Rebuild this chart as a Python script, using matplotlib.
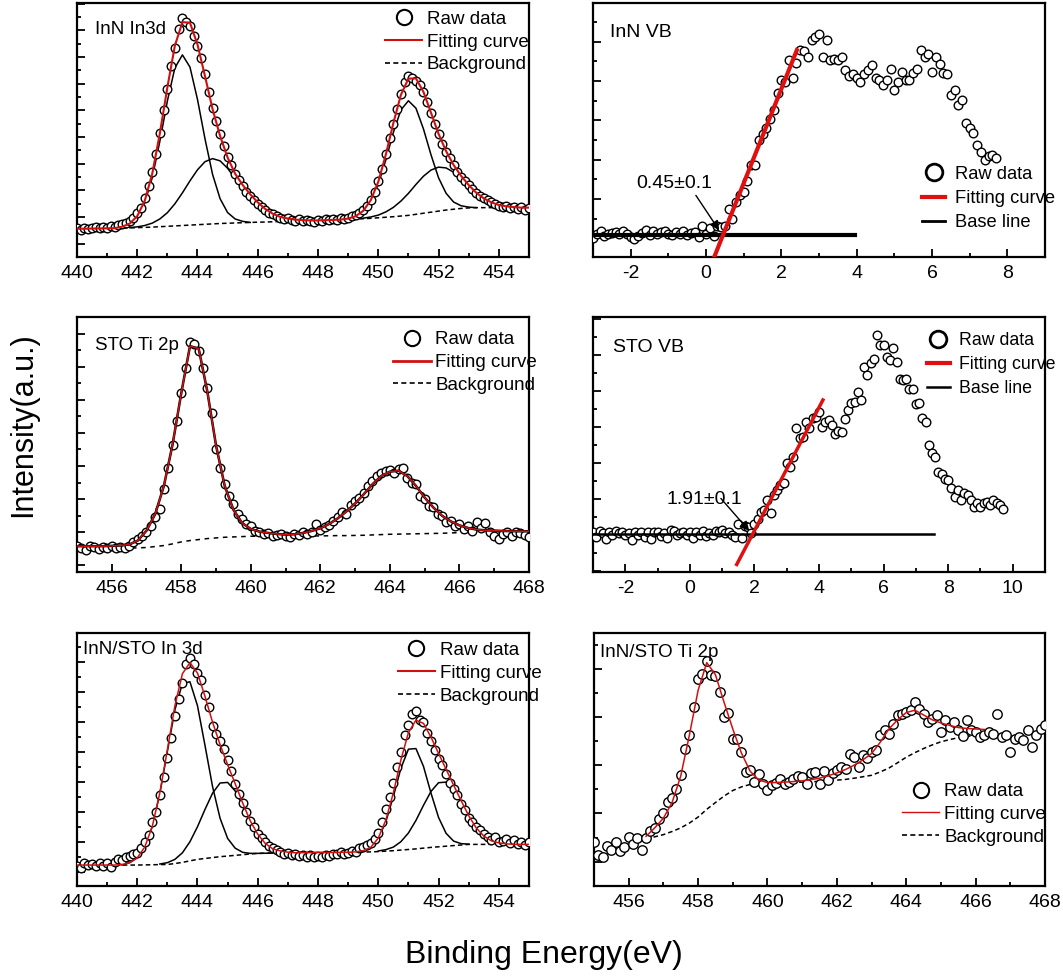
import numpy as np
import matplotlib
matplotlib.use("Agg")
import matplotlib.pyplot as plt
from matplotlib import font_manager
from matplotlib.lines import Line2D
from matplotlib.ticker import MultipleLocator

# XPS spectra: InN / STO core levels and valence bands

# ---- panel 1: InN In3d (raw step 0.125, curves step 0.25) ----
p1_raw_x0 = 440.0
p1_raw = [0.58, 0.52, 0.60, 0.55, 0.57, 0.62, 0.58, 0.64, 0.60, 0.66, 0.63, 0.70, 0.72, 0.76, 0.86, 0.95,
          1.15, 1.35, 1.70, 2.15, 2.70, 3.35, 4.15, 5.00, 5.80, 6.65, 7.35, 8.05, 8.45, 8.30, 8.15, 7.80,
          7.40, 6.95, 6.35, 5.70, 5.10, 4.60, 4.10, 3.65, 3.25, 2.95, 2.60, 2.40, 2.15, 1.95, 1.80, 1.65,
          1.50, 1.38, 1.28, 1.15, 1.10, 1.02, 0.98, 0.92, 0.95, 0.88, 0.86, 0.92, 0.84, 0.90, 0.86, 0.82,
          0.90, 0.86, 0.93, 0.88, 0.92, 0.90, 0.96, 0.94, 0.98, 1.02, 1.06, 1.15, 1.25, 1.42, 1.65, 1.95,
          2.35, 2.80, 3.35, 3.95, 4.50, 5.05, 5.60, 6.05, 6.30, 6.20, 6.10, 5.95, 5.70, 5.30, 4.90, 4.50,
          4.10, 3.75, 3.45, 3.20, 2.95, 2.70, 2.50, 2.35, 2.20, 2.05, 1.90, 1.80, 1.70, 1.62, 1.55, 1.50,
          1.42, 1.38, 1.42, 1.35, 1.38, 1.30, 1.36, 1.28, 1.32]
p1_x0 = 440.0
p1_bg = [.56, .56, .565, .57, .575, .58, .585, .59, .60, .61, .62, .635, .65, .665, .68, .695, .71, .725, .74, .755,
         .765, .775, .785, .795, .805, .81, .82, .83, .835, .84, .85, .86, .87, .88, .89, .90, .91, .92, .935, .95,
         .97, .99, 1.01, 1.035, 1.06, 1.10, 1.14, 1.18, 1.22, 1.26, 1.29, 1.32, 1.34, 1.35, 1.35, 1.35, 1.35, 1.35,
         1.35, 1.35, 1.35]
p1_fit = [.56, .56, .565, .57, .575, .58, .635, .75, 1.03, 1.61, 2.63, 4.13, 5.86, 7.43, 8.31, 8.29, 7.47, 6.28,
          5.05, 4.04, 3.23, 2.62, 2.20, 1.85, 1.55, 1.30, 1.12, 1.00, .94, .90, .88, .87, .87, .88, .89, .90, .94,
          1.03, 1.23, 1.63, 2.32, 3.34, 4.52, 5.58, 6.19, 6.20, 5.69, 4.91, 4.12, 3.47, 2.95, 2.54, 2.20, 1.91,
          1.70, 1.55, 1.45, 1.40, 1.37, 1.35, 1.35]
p1_peaks = [
    (440.5, [0, 0, 0, 0, .05, .15, .40, .93, 1.86, 3.2, 4.70, 5.93, 6.4, 5.93, 4.70, 3.2, 1.86, .93, .40, .15, .05, 0]),
    (441.75, [.01, .03, .07, .15, .29, .51, .83, 1.225, 1.66, 2.06, 2.35, 2.45, 2.35, 2.06, 1.66, 1.37, 1.05, .75,
              .49, .30, .17, .10, .06, .03, .01, 0, 0, 0, 0, 0]),
    (448.0, [0, 0, 0, 0, .03, .10, .27, .63, 1.25, 2.15, 3.16, 3.98, 4.3, 3.98, 3.16, 2.15, 1.25, .63, .27, .10, .03, 0]),
    (449.5, [.02, .05, .10, .20, .35, .56, .825, 1.12, 1.39, 1.58, 1.65, 1.58, 1.39, 1.12, .825, .56, .35, .20, .10,
             .05, .02, 0, 0]),
]

# ---- panel 2: InN VB (raw step 0.1) ----
p2_raw_x0 = -3.0
p2_raw = [0.0, 0.10, 0.18, 0.05, 0.12, 0.14, 0.16, 0.10, 0.18, 0.12, 0.02, -0.02, 0.06, 0.14, 0.20, 0.08, 0.18,
          0.10, 0.15, 0.19, 0.10, 0.08, 0.15, 0.12, 0.18, 0.08, 0.14, 0.16, 0.02, 0.30,
          0.10, 0.25, 0.06, 0.30, 0.28, 0.30, 0.75, 0.50, 0.92, 1.10, 1.18, 1.45, 1.86, 1.85, 2.50, 2.66, 2.80,
          3.04, 3.25, 3.69, 4.02, 3.98, 4.52, 4.06, 4.45, 4.78, 4.75, 4.61, 5.03, 5.12, 5.20, 4.61, 5.03, 4.54,
          4.56, 4.54, 4.61, 4.27, 4.12, 4.17, 4.06, 3.97, 4.17, 4.27, 4.40, 4.06, 4.02, 3.89, 4.02, 4.31, 3.76,
          3.97, 4.23, 4.02, 4.02, 4.19, 4.31, 4.78, 4.61, 4.69, 4.23, 4.61, 4.44, 4.19, 4.17, 3.64, 3.78, 3.38,
          3.51, 2.93, 2.79, 2.68, 2.36, 2.19, 2.00, 2.08, 2.11, 2.05]
p2_fit_x = [0.22, 2.41]
p2_fit_y = [-0.47, 4.78]
p2_base_x = [-3.0, 3.96]
p2_base_y = [0.09, 0.09]

# ---- panel 3: STO Ti 2p ----
p3_raw_x0 = 455.0
p3_raw = [.60, .52, .48, .58, .55, .50, .56, .52, .60, .54, .57, .52, .58, .70, .80, .90,
          1.00, 1.20, 1.45, 1.70, 2.30, 2.95, 3.65, 4.35, 5.20, 5.95, 6.75, 6.68, 6.48, 5.95, 5.35, 4.60,
          3.50, 2.95, 2.45, 2.10, 1.85, 1.55, 1.40, 1.25, 1.20, 1.05, 1.02, .95, .98, .88, .92, .96,
          .90, .85, .95, .92, 1.00, .96, 1.02, 1.25, 1.08, 1.15, 1.22, 1.35, 1.45, 1.62, 1.55, 1.82,
          1.95, 2.05, 2.18, 2.40, 2.55, 2.70, 2.80, 2.85, 2.88, 2.78, 2.92, 2.95, 2.65, 2.50, 2.45, 2.10,
          2.00, 1.80, 1.75, 1.55, 1.50, 1.30, 1.35, 1.20, 1.25, 1.10, 1.18, 1.05, 1.30, 1.12, 1.28, 1.00,
          .88, .80, .95, 1.02, .90, 1.00, .98, .92, .85]
p3_x0 = 455.0
p3_bg = [.54, .54, .53, .53, .53, .52, .52, .53, .54, .57, .60, .65, .71, .75, .78, .81, .83, .85, .86, .87,
         .88, .88, .885, .885, .89, .89, .89, .89, .89, .895, .90, .90, .905, .91, .92, .93, .94, .945, .95, .955,
         .96, .965, .97, .98, .99, .995, 1.0, 1.005, 1.01, 1.01, 1.015, 1.02, 1.02]
p3_fit = [.58, .58, .58, .58, .59, .60, .63, .75, 1.05, 1.55, 2.40, 3.65, 5.20, 6.62, 6.55, 5.25, 3.62, 2.40,
          1.68, 1.28, 1.10, 1.02, .98, .95, .93, .94, .98, 1.04, 1.12, 1.25, 1.42, 1.63, 1.87, 2.15, 2.45, 2.70,
          2.83, 2.86, 2.70, 2.40, 2.05, 1.75, 1.50, 1.33, 1.21, 1.13, 1.08, 1.06, 1.05, 1.04, 1.035, 1.03, 1.03]

# ---- panel 4: STO VB ----
p4_raw_x0 = -3.0
p4_raw = [.10, -.05, .12, .05, -.10, .08, .02, .12, .05, .08, .0, .05, -.12, .10, .02, .08, -.06, .10, -.10, .08,
          .10, -.02, .05, -.08, .15, .12, .0, .05, .10, .02,
          .08, -.08, .08, .02, .12, -.02, .05, .0, .12, .08, .15, .05, .10, .02, -.05, .30, -.08, .25, .22, .06,
          .32, .45, .65, .69, .97, .63, 1.11, 1.25, 1.39, 1.45, 1.99, 1.90, 2.18, 2.96, 2.69, 2.72, 3.15, 2.96,
          3.24, 3.27, 3.43, 2.99, 3.15, 3.20, 3.06, 2.81, 2.90, 2.87, 3.21, 3.47, 3.66, 3.70, 3.98, 3.75, 4.66,
          4.44, 4.77, 4.88, 5.56, 5.28, 5.28, 4.95, 4.86, 5.19, 4.79, 4.32, 4.30, 4.32, 4.05, 4.05, 3.64, 3.66,
          3.24, 3.15, 2.50, 2.29, 2.18, 1.76, 1.71, 1.57, 1.53, 1.30, 1.06, 1.25, 0.97, 1.16, 1.11, 0.97, 0.79,
          0.88, 0.79, 0.90, 0.93, 0.83, 0.97, 0.88, 0.83, 0.74]
p4_fit_x = [1.45, 4.12]
p4_fit_y = [-0.81, 3.75]
p4_base_x = [-3.0, 7.55]
p4_base_y = [0.03, 0.03]

# ---- panel 5: InN/STO In 3d ----
p5_raw_x0 = 440.0
p5_raw = [.20, .12, .28, .22, .25, .18, .28, .20, .30, .14, .32, .42, .38, .48, .52, .60,
          .62, .80, .98, 1.22, 1.65, 1.98, 2.55, 3.15, 3.80, 4.45, 5.20, 5.75, 6.30, 6.95, 7.12, 6.92,
          6.62, 6.40, 5.90, 5.50, 4.85, 4.60, 4.35, 4.08, 3.72, 3.35, 2.92, 2.60, 2.28, 1.98, 1.70, 1.48,
          1.25, 1.12, .98, .85, .80, .72, .66, .58, .62, .55, .60, .52, .56, .48, .55, .50,
          .53, .48, .56, .52, .58, .60, .66, .58, .62, .70, .66, .78, .82, .90, .95, 1.10,
          1.30, 1.65, 2.10, 2.50, 2.95, 3.50, 4.00, 4.55, 4.90, 5.25, 5.35, 5.05, 5.00, 4.62, 4.35, 4.05,
          3.75, 3.55, 3.25, 2.95, 2.75, 2.55, 2.25, 2.05, 1.80, 1.65, 1.50, 1.38, 1.25, 1.15, 1.05, 1.15,
          .98, 1.02, 1.10, .95, 1.05, .92, 1.00, .90, .98]
p5_x0 = 440.0
p5_bg = [.22, .22, .22, .22, .22, .22, .22, .22, .22, .225, .23, .235, .24, .27, .31, .36, .41, .44, .47, .50,
         .52, .545, .565, .59, .61, .615, .62, .625, .63, .63, .635, .635, .64, .64, .64, .645, .645, .65, .655, .66,
         .67, .685, .70, .72, .74, .76, .785, .81, .83, .85, .87, .89, .91, .91, .91, .91, .91, .91, .91, .91, .91]
p5_fit = [.22, .22, .22, .22, .22, .22, .24, .30, .46, .82, 1.51, 2.63, 4.07, 5.54, 6.61, 6.98, 6.63, 5.85, 4.99,
          4.24, 3.57, 2.94, 2.29, 1.70, 1.25, .94, .76, .69, .65, .63, .635, .635, .64, .64, .64, .645, .645, .66,
          .70, .81, 1.12, 1.72, 2.63, 3.73, 4.64, 5.06, 4.95, 4.49, 3.95, 3.42, 2.89, 2.37, 1.87, 1.46, 1.19, 1.03,
          .96, .93, .91, .91, .91]
p5_peaks = [
    (441.0, [0, 0, .02, .08, .24, .59, 1.28, 2.37, 3.77, 5.13, 5.98, 5.98, 5.13, 3.77, 2.37, 1.28, .59, .24, .08,
             .02, 0, 0, 0]),
    (442.75, [.02, .06, .14, .32, .64, 1.09, 1.64, 2.15, 2.46, 2.46, 2.15, 1.64, 1.09, .64, .32, .14, .06, .02]),
    (449.25, [.01, .045, .15, .43, .98, 1.81, 2.73, 3.35, 3.35, 2.73, 1.81, .98, .43, .15, .045, .01]),
    (450.0, [.02, .05, .12, .28, .55, .95, 1.43, 1.87, 2.14, 2.14, 1.87, 1.43, .95, .55, .28, .12, .05, .02,
             0, 0, 0]),
]

# ---- panel 6: InN/STO Ti 2p ----
p6_raw_x0 = 455.0
p6_raw = [.83, .28, .21, .65, .48, .83, .46, .62, 1.03, .73, .97, .48, .97, 1.28, 1.38, 1.75,
          2.00, 2.48, 2.62, 3.03, 3.59, 4.65, 5.24, 6.41, 7.59, 7.79, 8.32, 7.72, 7.68, 7.03, 6.00, 6.17,
          5.10, 5.10, 4.55, 3.72, 3.79, 3.31, 3.63, 3.24, 2.99, 3.17, 3.27, 3.41, 3.21, 3.31, 3.41, 3.54,
          3.52, 3.24, 3.68, 3.72, 3.24, 3.77, 3.38, 3.66, 3.79, 3.93, 3.86, 4.48, 4.34, 3.93, 4.41, 4.28,
          4.55, 4.62, 5.24, 5.45, 5.31, 5.72, 6.07, 6.14, 6.21, 6.28, 6.62, 6.34, 6.14, 5.79, 5.93, 6.07,
          5.38, 5.86, 5.59, 5.79, 5.45, 5.20, 5.86, 5.45, 5.38, 5.17, 5.24, 5.38, 5.31, 6.14, 5.17, 5.24,
          4.55, 5.10, 5.17, 5.06, 5.45, 4.76, 5.24, 5.52, 5.66]
p6_x0 = 456.5
p6_bg = [.95, 1.03, 1.12, 1.25, 1.40, 1.60, 1.85, 2.17, 2.45, 2.72, 2.95, 3.10, 3.20, 3.24, 3.26, 3.27, 3.28,
         3.29, 3.30, 3.31, 3.33, 3.36, 3.38, 3.41, 3.46, 3.52, 3.58, 3.72, 3.88, 4.10, 4.33, 4.52, 4.69, 4.84,
         4.97, 5.06, 5.14, 5.19, 5.24, 5.27]
p6_fit = [1.05, 1.40, 1.80, 2.45, 3.55, 5.25, 7.10, 8.25, 7.75, 6.60, 5.50, 4.50, 3.75, 3.38, 3.28, 3.28, 3.30,
          3.32, 3.35, 3.40, 3.46, 3.56, 3.68, 3.82, 4.00, 4.22, 4.48, 4.95, 5.50, 5.88, 6.18, 6.28, 6.08, 5.88,
          5.75, 5.65, 5.56, 5.52, 5.50, 5.48]

STEP_RAW = 0.125
STEP_FIT = 0.25

names = {f.name for f in font_manager.fontManager.ttflist}
NARROW = "Liberation Sans Narrow" if "Liberation Sans Narrow" in names else "Liberation Sans"
plt.rcParams["font.family"] = [NARROW, "DejaVu Sans"]
plt.rcParams["axes.linewidth"] = 1.6


def grid(x0, n, step):
    return x0 + step * np.arange(n)


def style_axes(ax, xlim, ylim, xmaj, ymaj, ymin):
    ax.set_xlim(*xlim)
    ax.set_ylim(*ylim)
    ax.xaxis.set_major_locator(MultipleLocator(xmaj))
    ax.xaxis.set_minor_locator(MultipleLocator(xmaj / 2))
    ax.yaxis.set_major_locator(MultipleLocator(ymaj))
    ax.yaxis.set_minor_locator(MultipleLocator(ymin))
    ax.tick_params(which="both", direction="in", top=False, right=False, width=1.3)
    ax.tick_params(which="major", length=6, labelsize=14, pad=6)
    ax.tick_params(which="minor", length=3)
    ax.set_yticklabels([])
    ax.xaxis.set_major_formatter(plt.FuncFormatter(lambda v, p: "%d" % round(v)))


def raw(ax, x0, ys, step, ms=6.2):
    ax.plot(grid(x0, len(ys), step), ys, ls="none", marker="o", mfc="white", mec="k", ms=ms, mew=1.0, zorder=3)


def core_legend(ax, fig_xy, red_lw=1.5):
    h = [Line2D([], [], ls="none", marker="o", mfc="none", mec="k", ms=11, mew=1.5),
         Line2D([], [], color="#d01010", lw=red_lw),
         Line2D([], [], color="k", lw=1.2, ls=(0, (3, 2)))]
    ax.legend(h, ["Raw data", "Fitting curve", "Background"], loc="upper left", bbox_to_anchor=fig_xy,
              bbox_transform=fig.transFigure, frameon=False, fontsize=13.5, handlelength=2.0,
              handletextpad=0.25, labelspacing=0.3, borderpad=0, borderaxespad=0)


def vb_legend(ax, fig_xy, base_lw, size=14):
    h = [Line2D([], [], ls="none", marker="o", mfc="none", mec="k", ms=12, mew=2.0),
         Line2D([], [], color="#e01010", lw=3),
         Line2D([], [], color="k", lw=base_lw)]
    ax.legend(h, ["Raw data", "Fitting curve", "Base line"], loc="upper left", bbox_to_anchor=fig_xy,
              bbox_transform=fig.transFigure, frameon=False, fontsize=size, handlelength=1.3,
              handletextpad=0.5, labelspacing=0.4, borderpad=0, borderaxespad=0)


fig = plt.figure(figsize=(10.63, 9.8), dpi=100)
ax1 = fig.add_axes([0.0724, 0.7378, 0.4252, 0.2592])
ax2 = fig.add_axes([0.5579, 0.7378, 0.4252, 0.2592])
ax3 = fig.add_axes([0.0724, 0.4163, 0.4252, 0.2602])
ax4 = fig.add_axes([0.5579, 0.4163, 0.4252, 0.2602])
ax5 = fig.add_axes([0.0724, 0.0959, 0.4252, 0.2582])
ax6 = fig.add_axes([0.5588, 0.0959, 0.4243, 0.2582])

# panel 1
bg = np.array(p1_bg)
xf = grid(p1_x0, len(p1_fit), STEP_FIT)
for x0, c in p1_peaks:
    i0 = int(round((x0 - p1_x0) / STEP_FIT))
    ax1.plot(grid(x0, len(c), STEP_FIT), bg[i0:i0 + len(c)] + np.array(c), color="k", lw=1.1, zorder=2)
ax1.plot(xf, bg, color="k", lw=1.1, ls=(0, (3, 2)), zorder=2)
raw(ax1, p1_raw_x0, p1_raw, STEP_RAW)
ax1.plot(xf, p1_fit, color="#d01010", lw=1.5, zorder=4)
style_axes(ax1, (440, 455), (-0.5, 9.03), 2, 1, 0.5)
ax1.text(0.04, 0.894, "InN In3d", transform=ax1.transAxes, fontsize=13.5, va="center")
core_legend(ax1, (0.362, 0.989))

# panel 2
raw(ax2, p2_raw_x0, p2_raw, 0.1)
ax2.plot(p2_base_x, p2_base_y, color="k", lw=3, zorder=4)
ax2.plot(p2_fit_x, p2_fit_y, color="#e01010", lw=3, zorder=5)
ax2.text(-0.84, 1.39, "0.45±0.1", fontsize=14, ha="center", va="center")
ax2.annotate("", xy=(0.35, 0.2), xytext=(-0.27, 1.09),
             arrowprops=dict(arrowstyle="-|>", color="k", lw=1.0, mutation_scale=14, shrinkA=0, shrinkB=0))
style_axes(ax2, (-3, 9), (-0.475, 5.98), 2, 1, 0.5)
ax2.text(0.038, 0.882, "InN VB", transform=ax2.transAxes, fontsize=14, va="center")
vb_legend(ax2, (0.867, 0.831), 2.0, size=13.2)

# panel 3
xf = grid(p3_x0, len(p3_fit), STEP_FIT)
ax3.plot(xf, p3_bg, color="k", lw=1.1, ls=(0, (3, 3)), zorder=2)
raw(ax3, p3_raw_x0, p3_raw, STEP_RAW)
ax3.plot(xf, p3_fit, color="k", lw=1.8, zorder=4)
ax3.plot(xf, p3_fit, color="#d01010", lw=1.1, zorder=5)
style_axes(ax3, (455, 468), (-0.2, 7.5), 2, 1, 0.5)
ax3.text(0.04, 0.89, "STO Ti 2p", transform=ax3.transAxes, fontsize=13.5, va="center")
core_legend(ax3, (0.370, 0.662), red_lw=2.0)

# panel 4
raw(ax4, p4_raw_x0, p4_raw, 0.1)
ax4.plot(p4_base_x, p4_base_y, color="k", lw=1.8, zorder=4)
ax4.plot(p4_fit_x, p4_fit_y, color="#e01010", lw=2.5, zorder=5)
ax4.text(0.44, 0.99, "1.91±0.1", fontsize=14, ha="center", va="center")
ax4.annotate("", xy=(1.84, 0.12), xytext=(0.96, 1.02),
             arrowprops=dict(arrowstyle="-|>", color="k", lw=1.0, mutation_scale=14, shrinkA=0, shrinkB=0))
style_axes(ax4, (-3, 11), (-1.02, 6.05), 2, 1, 0.5)
ax4.text(0.044, 0.882, "STO VB", transform=ax4.transAxes, fontsize=14, va="center")
vb_legend(ax4, (0.872, 0.661), 1.8, size=12.8)

# panel 5
bg = np.array(p5_bg)
xf = grid(p5_x0, len(p5_fit), STEP_FIT)
for x0, c in p5_peaks:
    i0 = int(round((x0 - p5_x0) / STEP_FIT))
    ax5.plot(grid(x0, len(c), STEP_FIT), bg[i0:i0 + len(c)] + np.array(c), color="k", lw=1.1, zorder=2)
ax5.plot(xf, bg, color="k", lw=1.1, ls=(0, (3, 2)), zorder=2)
raw(ax5, p5_raw_x0, p5_raw, STEP_RAW)
ax5.plot(xf, p5_fit, color="#d01010", lw=1.1, zorder=4)
style_axes(ax5, (440, 455), (-0.48, 7.97), 2, 1, 0.5)
ax5.text(0.013, 0.933, "InN/STO In 3d", transform=ax5.transAxes, fontsize=13.5, va="center")
core_legend(ax5, (0.374, 0.345))

# panel 6
xf = grid(p6_x0, len(p6_fit), STEP_FIT)
ax6.plot(xf, p6_bg, color="k", lw=1.1, ls=(0, (3, 2)), zorder=2)
raw(ax6, p6_raw_x0, p6_raw, STEP_RAW, ms=6.8)
ax6.plot(xf, p6_fit, color="#d01010", lw=1.1, zorder=4)
style_axes(ax6, (455, 468), (-1.01, 9.48), 2, 2, 1)
ax6.text(0.013, 0.921, "InN/STO Ti 2p", transform=ax6.transAxes, fontsize=13.5, va="center")
core_legend(ax6, (0.8485, 0.201), red_lw=1.0)

fig.text(0.022, 1 - 425 / 980, "Intensity(a.u.)", rotation=90, ha="center", va="center",
         fontsize=22, family=["Liberation Sans", "DejaVu Sans"])
fig.text(544 / 1063, 1 - 955 / 980, "Binding Energy(eV)", ha="center", va="center", fontsize=23)

fig.savefig("out.png", dpi=100)
